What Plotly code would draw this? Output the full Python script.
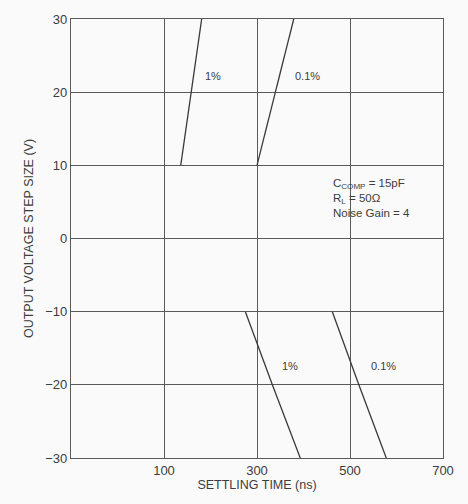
import plotly.graph_objects as go

# Data
v_pos = [10, 20, 30]
t_1pct_pos = [136, 158, 181]
t_01pct_pos = [300, 339, 379]

v_neg = [-10, -20, -30]
t_1pct_neg = [275, 333, 393]
t_01pct_neg = [462, 519, 578]

x_ticks = [100, 300, 500, 700]
y_ticks = [30, 20, 10, 0, -10, -20, -30]

line_color = "#3a3a3a"
grid_color = "#5a5a5a"
text_color = "#3c3c3c"
font_family = "Liberation Sans, Arial, sans-serif"

fig = go.Figure()
for xs, ys in [(t_1pct_pos, v_pos), (t_01pct_pos, v_pos),
               (t_1pct_neg, v_neg), (t_01pct_neg, v_neg)]:
    fig.add_trace(go.Scatter(x=xs, y=ys, mode="lines",
                             line=dict(color=line_color, width=1.3),
                             showlegend=False, hoverinfo="skip"))

labels = [
    (206, 22.2, "1%"), (408, 22.2, "0.1%"),
    (372, -17.4, "1%"), (572, -17.4, "0.1%"),
]
for x, y, t in labels:
    fig.add_annotation(x=x, y=y, text=t, showarrow=False,
                       font=dict(size=11, color=text_color, family=font_family))

fig.add_annotation(
    x=460, y=8.7, xanchor="left", yanchor="top", align="left", showarrow=False,
    text=("C<sub>COMP</sub> = 15pF<br>R<sub>L</sub> = 50Ω<br>Noise Gain = 4"),
    font=dict(size=11.5, color=text_color, family=font_family),
)

fig.update_layout(
    width=468, height=504,
    margin=dict(l=71, r=25, t=14, b=46),
    paper_bgcolor="#fafafa", plot_bgcolor="#fafafa",
    font=dict(family=font_family, color=text_color, size=13),
)
fig.update_xaxes(
    range=[-100, 700], tickvals=x_ticks, ticktext=[str(v) for v in x_ticks],
    showgrid=True, gridcolor=grid_color, gridwidth=1,
    showline=True, linecolor=grid_color, linewidth=1.2, mirror=True,
    zeroline=False, ticks="", ticklen=0,
    title=dict(text="SETTLING TIME (ns)", font=dict(size=12.5, color=text_color), standoff=0),
    tickfont=dict(size=13, color=text_color),
)
fig.update_yaxes(
    range=[-30, 30], tickvals=y_ticks,
    showgrid=True, gridcolor=grid_color, gridwidth=1,
    showline=True, linecolor=grid_color, linewidth=1.2, mirror=True,
    zeroline=False, ticks="", ticklen=0,
    title=dict(text="OUTPUT VOLTAGE STEP SIZE (V)", font=dict(size=12.5, color=text_color), standoff=8),
    tickfont=dict(size=13, color=text_color),
)

fig.write_html("out.html")
